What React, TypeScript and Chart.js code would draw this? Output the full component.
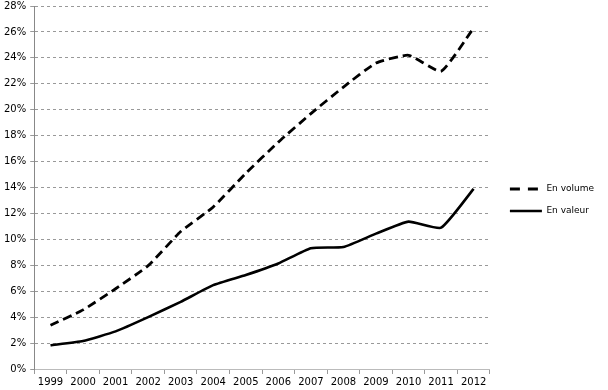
import React, { useEffect, useRef } from "react";
import { Chart, registerables } from "chart.js";

Chart.register(...registerables);

const years = ["1999", "2000", "2001", "2002", "2003", "2004", "2005", "2006", "2007", "2008", "2009", "2010", "2011", "2012"];
const enVolume = [3.37, 4.56, 6.19, 7.97, 10.6, 12.5, 15.1, 17.5, 19.7, 21.75, 23.6, 24.2, 22.97, 26.3];
const enValeur = [1.83, 2.16, 2.9, 4.0, 5.18, 6.47, 7.25, 8.14, 9.32, 9.41, 10.44, 11.37, 10.9, 13.9];
const yMin = 0;
const yMax = 28;
const yStep = 2;

const legendShift = {
  id: "legendShift",
  afterLayout(chart: any) {
    const lg = chart.legend;
    if (!lg) return;
    lg.left += 7;
    lg.right += 7;
    lg.top += 7;
    lg.bottom += 7;
  },
};

export default function App() {
  const ref = useRef<HTMLCanvasElement | null>(null);
  useEffect(() => {
    document.body.style.margin = "0";
    const font = { family: "Verdana, 'DejaVu Sans', sans-serif", size: 10 };
    const legendFont = { family: "Verdana, 'DejaVu Sans', sans-serif", size: 9 };
    const chart = new Chart(ref.current!, {
      type: "line",
      data: {
        labels: years,
        datasets: [
          {
            label: "En volume",
            data: enVolume,
            borderColor: "#000",
            backgroundColor: "#000",
            borderWidth: 2.8,
            borderDash: [9, 5],
            pointRadius: 0,
            tension: 0.15,
            fill: false,
          },
          {
            label: "En valeur",
            data: enValeur,
            borderColor: "#000",
            backgroundColor: "#000",
            borderWidth: 2.6,
            pointRadius: 0,
            tension: 0.15,
            fill: false,
          },
        ],
      },
      plugins: [legendShift],
      options: {
        animation: false,
        responsive: false,
        maintainAspectRatio: false,
        layout: { padding: { top: 0, right: 11, left: 0, bottom: 0 } },
        plugins: {
          tooltip: { enabled: false },
          legend: {
            position: "right",
            labels: {
              font: legendFont,
              color: "#000",
              usePointStyle: true,
              pointStyle: "line",
              pointStyleWidth: 32,
              boxHeight: 9,
              padding: 13,
              generateLabels: (ch: any) =>
                ch.data.datasets.map((ds: any, i: number) => ({
                  text: ds.label,
                  datasetIndex: i,
                  fillStyle: ds.backgroundColor,
                  strokeStyle: ds.borderColor,
                  lineWidth: ds.borderWidth,
                  lineDash: ds.borderDash ? [10, 8] : [],
                  pointStyle: "line",
                  fontColor: "#000",
                  hidden: false,
                })),
            },
          },
        },
        scales: {
          x: {
            offset: true,
            grid: {
              offset: true,
              drawOnChartArea: false,
              drawTicks: true,
              tickLength: 5,
              color: "#999",
            },
            border: { display: true, color: "#bbb" },
            ticks: { font, color: "#000", maxRotation: 0, autoSkip: false, padding: 2 },
          },
          y: {
            min: yMin,
            max: yMax,
            grid: { color: "#999", tickLength: 4, tickBorderDash: [] },
            border: { display: true, color: "#888", dash: [3, 3] },
            ticks: {
              stepSize: yStep,
              font,
              color: "#000",
              padding: 4,
              callback: (v: any) => v + "%",
            },
          },
        },
      },
    });
    return () => chart.destroy();
  }, []);
  return (
    <div style={{ width: 608, height: 390, overflow: "hidden" }}>
      <canvas ref={ref} width={608} height={394} style={{ display: "block", marginTop: -4 }} />
    </div>
  );
}
